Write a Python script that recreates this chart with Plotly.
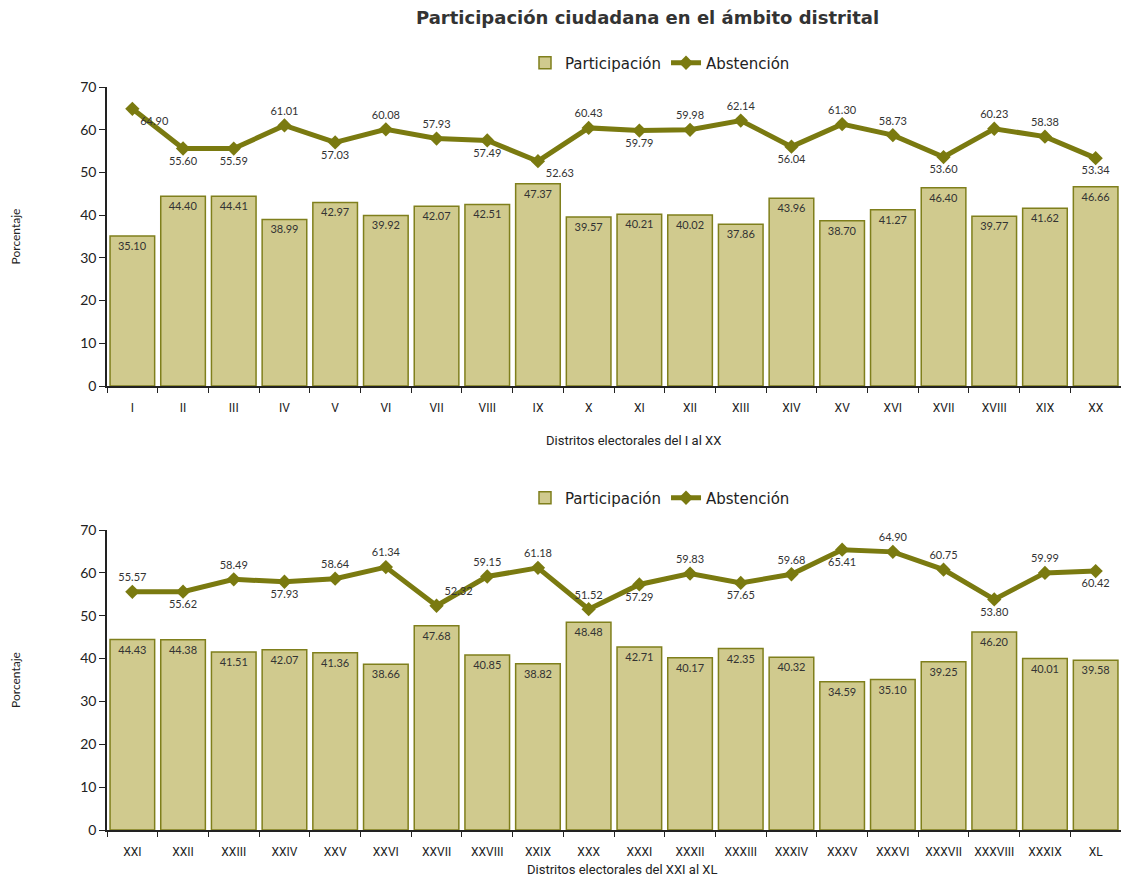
import plotly.graph_objects as go
from plotly.subplots import make_subplots

# ---- data ----
distritos_1 = ["I", "II", "III", "IV", "V", "VI", "VII", "VIII", "IX", "X",
               "XI", "XII", "XIII", "XIV", "XV", "XVI", "XVII", "XVIII", "XIX", "XX"]
participacion_1 = [35.10, 44.40, 44.41, 38.99, 42.97, 39.92, 42.07, 42.51, 47.37, 39.57,
                   40.21, 40.02, 37.86, 43.96, 38.70, 41.27, 46.40, 39.77, 41.62, 46.66]
abstencion_1 = [64.90, 55.60, 55.59, 61.01, 57.03, 60.08, 57.93, 57.49, 52.63, 60.43,
                59.79, 59.98, 62.14, 56.04, 61.30, 58.73, 53.60, 60.23, 58.38, 53.34]

distritos_2 = ["XXI", "XXII", "XXIII", "XXIV", "XXV", "XXVI", "XXVII", "XXVIII", "XXIX", "XXX",
               "XXXI", "XXXII", "XXXIII", "XXXIV", "XXXV", "XXXVI", "XXXVII", "XXXVIII", "XXXIX", "XL"]
participacion_2 = [44.43, 44.38, 41.51, 42.07, 41.36, 38.66, 47.68, 40.85, 38.82, 48.48,
                   42.71, 40.17, 42.35, 40.32, 34.59, 35.10, 39.25, 46.20, 40.01, 39.58]
abstencion_2 = [55.57, 55.62, 58.49, 57.93, 58.64, 61.34, 52.32, 59.15, 61.18, 51.52,
                57.29, 59.83, 57.65, 59.68, 65.41, 64.90, 60.75, 53.80, 59.99, 60.42]

# ---- label placement (style) ----
pos_1 = ["bottom right", "bottom center", "bottom center", "top center", "bottom center",
         "top center", "top center", "bottom center", "bottom right", "top center",
         "bottom center", "top center", "top center", "bottom center", "top center",
         "top center", "bottom center", "top center", "top center", "bottom center"]
pos_2 = ["top center", "bottom center", "top center", "bottom center", "top center",
         "top center", "top right", "top center", "top center", "top center",
         "bottom center", "top center", "bottom center", "top center", "bottom center",
         "top center", "top center", "bottom center", "top center", "bottom center"]

BAR_FILL = "#d0ca8e"
BAR_LINE = "#7f7f1c"
LINE_COL = "#7a7a10"
FONT = "Lato, Open Sans, DejaVu Sans, sans-serif"
WIDE = "DejaVu Sans, Verdana, sans-serif"
NARROW = "Liberation Sans Narrow, Roboto, Liberation Sans, sans-serif"

fig = make_subplots(rows=2, cols=1)

def add_chart(row, cats, part, abst, pos, legend):
    fig.add_trace(go.Bar(
        x=cats, y=part, name="Participación",
        marker=dict(color=BAR_FILL, line=dict(color=BAR_LINE, width=1.5)),
        text=[f"{v:.2f}" for v in part], textposition="inside",
        insidetextanchor="end", textangle=0,
        textfont=dict(size=11, color="#333333", family=FONT),
        legend=legend, cliponaxis=False,
    ), row=row, col=1)
    fig.add_trace(go.Scatter(
        x=cats, y=abst, name="Abstención", mode="lines+markers+text",
        line=dict(color=LINE_COL, width=5),
        marker=dict(symbol="diamond", size=11, color=LINE_COL),
        text=[f"{v:.2f}" for v in abst], textposition=pos,
        textfont=dict(size=11, color="#333333", family=FONT),
        legend=legend, cliponaxis=False,
    ), row=row, col=1)

add_chart(1, distritos_1, participacion_1, abstencion_1, pos_1, "legend")
add_chart(2, distritos_2, participacion_2, abstencion_2, pos_2, "legend2")

# page has an 8px body margin; figure sized to fit inside the window
W, H = 1113, 870
OFF = 8
L, R = 107 - OFF, 0
PW = W - L - R

def py(p):
    return (H - (p - OFF)) / H

def px(p):
    return ((p - OFF) - L) / PW

axis_common = dict(showline=True, linecolor="#222222", linewidth=1.5, mirror=False,
                   showgrid=False, zeroline=False, automargin=False)

fig.update_xaxes(**axis_common, ticks="outside", tickson="boundaries", ticklen=5,
                 tickcolor="#222222", tickangle=0, ticklabelstandoff=10,
                 tickfont=dict(family=NARROW, size=12, color="#222222"),
                 range=[-0.5, 19.5], domain=[0, 1])
fig.update_yaxes(**axis_common, range=[0, 70], dtick=10, ticks="outside", ticklen=6,
                 tickcolor="#222222", tickfont=dict(family=FONT, size=14, color="#222222"),
                 title=dict(text="Porcentaje", font=dict(family=FONT, size=12, color="#222222"),
                            standoff=68))
fig.update_yaxes(domain=[py(386), py(87)], row=1, col=1)
fig.update_yaxes(domain=[py(830), py(530)], row=2, col=1)

fig.update_layout(
    width=W, height=H,
    margin=dict(l=L, r=R, t=0, b=0, autoexpand=False),
    paper_bgcolor="white", plot_bgcolor="white",
    bargap=0.12,
    font=dict(family=FONT, color="#222222"),
    legend=dict(orientation="h", x=px(660), xanchor="center", y=py(63), yanchor="middle",
                font=dict(size=15, family=WIDE), traceorder="normal"),
    legend2=dict(orientation="h", x=px(660), xanchor="center", y=py(498), yanchor="middle",
                 font=dict(size=15, family=WIDE), traceorder="normal"),
    annotations=[
        dict(text="<b>Participación ciudadana en el ámbito distrital</b>", x=px(647),
             y=py(17), xref="paper", yref="paper", showarrow=False, yanchor="middle",
             font=dict(size=18, family=WIDE, color="#333333")),
        dict(text="Distritos electorales del I al XX", x=px(633), y=py(440),
             xref="paper", yref="paper", showarrow=False, yanchor="middle",
             font=dict(size=13, family=NARROW, color="#222222")),
        dict(text="Distritos electorales del XXI al XL", x=px(622), y=py(869),
             xref="paper", yref="paper", showarrow=False, yanchor="middle",
             font=dict(size=13, family=NARROW, color="#222222")),
    ],
)

fig.write_html("out.html")
